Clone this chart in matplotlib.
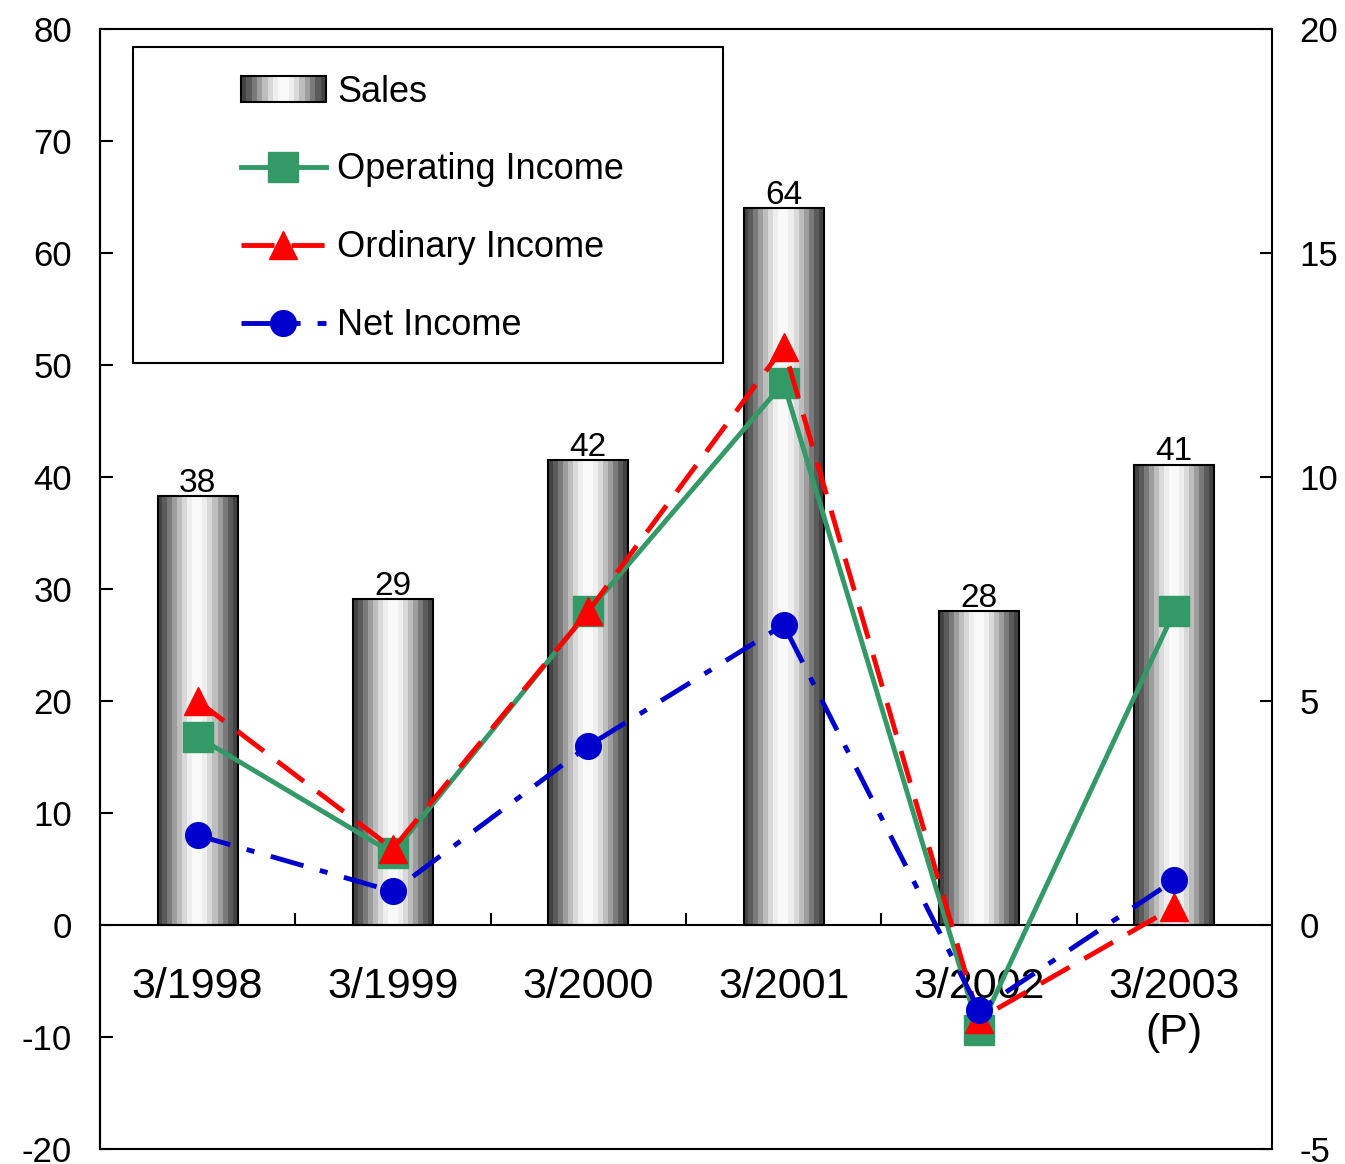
import numpy as np
import matplotlib
matplotlib.use("Agg")
import matplotlib.pyplot as plt
from matplotlib.patches import Rectangle
from matplotlib.legend_handler import HandlerBase

plt.rcParams['font.family'] = ['Liberation Sans', 'DejaVu Sans']

categories = ["3/1998", "3/1999", "3/2000", "3/2001", "3/2002", "3/2003\n(P)"]
sales = [38.3, 29.1, 41.5, 64.0, 28.0, 41.1]
operating_income = [4.2, 1.6, 7.0, 12.1, -2.35, 7.0]
ordinary_income = [5.0, 1.7, 7.0, 12.9, -2.1, 0.4]
net_income = [2.0, 0.75, 4.0, 6.7, -1.9, 1.0]

left_ticks = list(range(-20, 81, 10))
right_ticks = list(range(-5, 21, 5))

# cylinder-like grey shading across a bar
n_bands = 16
t = (np.arange(n_bands) + 0.5) / n_bands
greys = 0.24 + 0.74 * np.sin(np.pi * t) ** 1.5


class CylinderHandler(HandlerBase):
    def create_artists(self, legend, orig_handle, xdescent, ydescent,
                       width, height, fontsize, trans):
        arts = []
        w = width / n_bands
        for i, g in enumerate(greys):
            arts.append(Rectangle((-xdescent + i * w, -ydescent), w * 1.02, height,
                                  facecolor=str(g), edgecolor='none', transform=trans))
        arts.append(Rectangle((-xdescent, -ydescent), width, height, facecolor='none',
                              edgecolor='black', lw=1.5, transform=trans))
        return arts


fig = plt.figure(figsize=(13.45, 11.64), dpi=100)
ax = fig.add_axes([0.0743, 0.0129, 0.8714, 0.9622])
ax2 = ax.twinx()

x = np.arange(len(categories))
bar_w = 0.41
band_w = bar_w / n_bands
for i, g in enumerate(greys):
    ax.bar(x - bar_w / 2 + (i + 0.5) * band_w, sales, width=band_w * 1.05,
           color=str(g), edgecolor='none', zorder=2)
ax.bar(x, sales, width=bar_w, facecolor='none', edgecolor='black', lw=1.5, zorder=3)
for xi, v in zip(x, sales):
    ax.text(xi, v + 0.4, f"{v:.0f}", ha='center', va='baseline', fontsize=24)

ax.set_xlim(-0.5, len(categories) - 0.5)
ax.set_ylim(-20, 80)
ax.set_yticks(left_ticks)
ax.set_yticklabels([str(v) for v in left_ticks])
ax.spines['bottom'].set_position(('data', 0))
for s in ['top', 'right']:
    ax.spines[s].set_visible(False)
ax.spines['left'].set_linewidth(1.5)
ax.spines['bottom'].set_linewidth(1.5)
ax.set_xticks(x[:-1] + 0.5)
ax.set_xticklabels([])
ax.set_xticks(x, categories, minor=True)
ax.tick_params(axis='x', which='major', direction='in', length=9, width=1.5)
ax.tick_params(axis='x', which='minor', length=0, pad=30, labelsize=31)
ax.tick_params(axis='y', direction='in', length=9, width=1.5, pad=20, labelsize=25)

ax2.set_ylim(-5, 20)
ax2.set_yticks(right_ticks)
ax2.set_yticklabels([str(v) for v in right_ticks])
ax2.tick_params(axis='y', direction='in', length=9, width=1.5, pad=20, labelsize=25)
for s in ax2.spines.values():
    s.set_linewidth(1.5)

l1, = ax2.plot(x, operating_income, color='#339966', lw=3.5, marker='s', ms=22,
               label='Operating Income', zorder=3)
l2, = ax2.plot(x, ordinary_income, color='#FF0000', lw=3.5, marker='^', ms=20,
               label='Ordinary Income', zorder=4)
l2.set_dashes((6.8, 3.5))
l3, = ax2.plot(x, net_income, color='#0000CC', lw=3.5, marker='o', ms=18.5,
               label='Net Income', zorder=5)
l3.set_dashes((7.0, 3.5, 1.65, 3.5))

ax2.add_patch(Rectangle((0.0989, 0.6881), 0.4387, 0.2715, transform=fig.transFigure,
                        facecolor='white', edgecolor='black', lw=1.5, zorder=6))
sales_handle = Rectangle((0, 0), 1, 1)
leg = ax2.legend([sales_handle, l1, l2, l3],
                 ['Sales', 'Operating Income', 'Ordinary Income', 'Net Income'],
                 handler_map={Rectangle: CylinderHandler()},
                 loc='upper left', bbox_to_anchor=(0.1658, 0.9515),
                 bbox_transform=fig.transFigure, frameon=False, fontsize=26,
                 borderpad=0, labelspacing=1.19, handlelength=2.35,
                 handletextpad=0.32, numpoints=1)
leg.set_zorder(7)

fig.savefig("out.png", dpi=100)
